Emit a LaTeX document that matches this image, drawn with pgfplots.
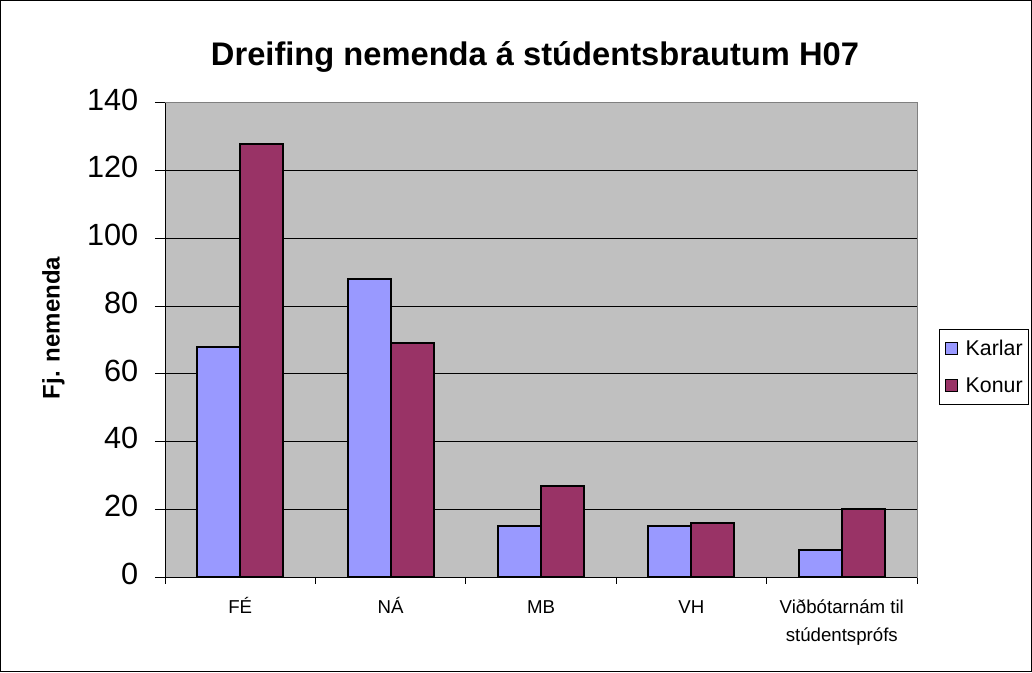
\documentclass[border=0pt]{standalone}
\usepackage{fontspec}
\setmainfont{Liberation Sans}
\usepackage{pgfplots}
\pgfplotsset{compat=1.18}
\definecolor{karlar}{HTML}{9999FF}
\definecolor{konur}{HTML}{993366}
\definecolor{plotbg}{HTML}{C0C0C0}

\begin{document}
\begin{tikzpicture}
% outer chart frame (1 px = 0.75pt)
\draw[black, line width=0.75pt] (0.375pt,0.375pt) rectangle (773.625pt,503.625pt);
\node[font=\bfseries\fontsize{24.5}{29}\selectfont] at (401.25pt,461.25pt)
  {Dreifing nemenda á stúdentsbrautum H07};
\node[font=\bfseries\fontsize{18}{22}\selectfont, rotate=90] at (40pt,258pt)
  {Fj. nemenda};

\begin{axis}[
    at={(123.75pt,71.25pt)}, anchor=south west,
    scale only axis,
    width=564pt, height=355.5pt,
    ybar=0pt, bar width=32.25pt,
    xmin=-0.5, xmax=4.5,
    ymin=0, ymax=140,
    xtick={0,1,2,3,4},
    xticklabels={FÉ, NÁ, MB, VH, {Viðbótarnám til\\stúdentsprófs}},
    minor xtick={-0.5,0.5,1.5,2.5,3.5,4.5},
    ytick={0,20,...,140},
    xtick pos=lower, ytick pos=left,
    tick align=outside,
    major tick length=7.5pt,
    minor tick length=5pt,
    major x tick style={draw=none},
    tick style={black, line width=0.75pt},
    ymajorgrids,
    grid style={black, line width=0.75pt},
    axis line style={draw=gray, line width=0.75pt},
    axis background/.style={fill=plotbg},
    /pgf/number format/assume math mode=true,
    yticklabel style={font=\fontsize{23}{27}\selectfont, xshift=-9pt},
    typeset ticklabels with strut,
    xticklabel style={font=\fontsize{14}{21}\selectfont, align=center, yshift=-2pt},
    legend style={
        at={(1.029,0.443)}, anchor=west,
        draw=black, fill=white,
        font=\fontsize{16}{19}\selectfont,
        inner xsep=2pt, inner ysep=6pt,
        row sep=11pt,
    },
    legend cell align=left,
    legend image code/.code={%
        \draw[#1, draw=black, line width=0.75pt] (2pt,-4.5pt) rectangle (11pt,4.5pt);
        \path (0pt,0pt) (14.5pt,0pt);},
]
\addplot[fill=karlar, draw=black, line width=1.5pt] coordinates {(0,68) (1,88) (2,15) (3,15) (4,8)};
\addlegendentry{Karlar}
\addplot[fill=konur, draw=black, line width=1.5pt] coordinates {(0,128) (1,69) (2,27) (3,16) (4,20)};
\addlegendentry{Konur}
\draw[black, line width=0.75pt] (rel axis cs:0,0) -- (rel axis cs:0,1);
\draw[black, line width=0.75pt] (rel axis cs:0,0) -- (rel axis cs:1,0);
\end{axis}
\end{tikzpicture}
\end{document}
